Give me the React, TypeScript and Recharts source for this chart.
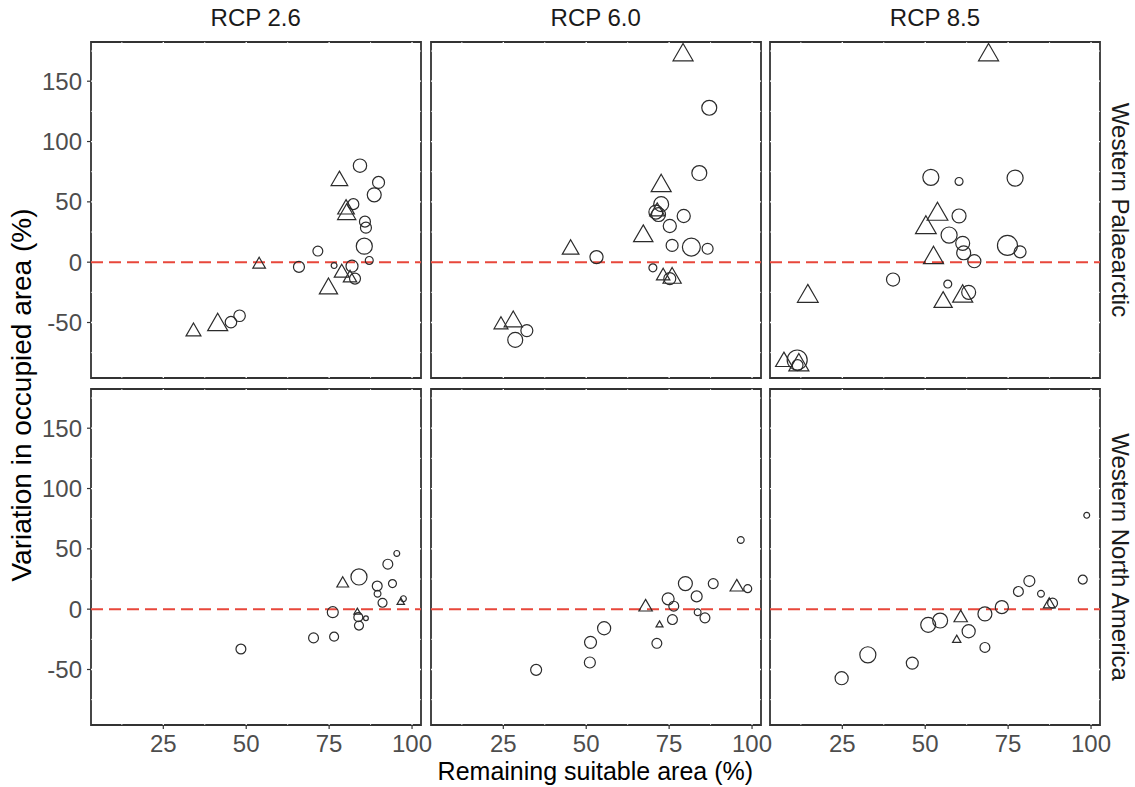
import React from 'react';
import { ScatterChart, Scatter, XAxis, YAxis, ZAxis, ReferenceLine, ReferenceArea } from 'recharts';

type Pt = { x: number; y: number; s: number };

const columnLabels = ['RCP 2.6', 'RCP 6.0', 'RCP 8.5'];
const rowLabels = ['Western Palaearctic', 'Western North America'];
const xTicks = [25, 50, 75, 100];
const yTicks = [-50, 0, 50, 100, 150];
const xMinor = [12.5, 37.5, 62.5, 87.5];
const yMinor = [-75, -25, 25, 75, 125, 175];
const xDomain: [number, number] = [3.2, 102.7];
const yDomain: [number, number] = [-96, 182.5];

// Western Palaearctic
const wpRcp26Circles: Pt[] = [
  { x: 45.4, y: -49.7, s: 23 }, { x: 48, y: -44.4, s: 23 }, { x: 65.9, y: -3.9, s: 21 },
  { x: 71.6, y: 9.2, s: 17 }, { x: 76.5, y: -2.8, s: 6 }, { x: 81.9, y: -3.3, s: 25 },
  { x: 82.8, y: -13.6, s: 21 }, { x: 82.3, y: 48.1, s: 21 }, { x: 84.3, y: 80, s: 31 },
  { x: 89.9, y: 66.1, s: 25 }, { x: 88.6, y: 55.8, s: 34 }, { x: 85.8, y: 33.6, s: 21 },
  { x: 86.1, y: 28.6, s: 21 }, { x: 85.6, y: 13.3, s: 45 }, { x: 87.1, y: 1.4, s: 11 },
];
const wpRcp26Triangles: Pt[] = [
  { x: 34.1, y: -57.5, s: 32 }, { x: 41.4, y: -51.9, s: 58 }, { x: 53.9, y: -1.9, s: 23 },
  { x: 74.8, y: -21.9, s: 48 }, { x: 78.1, y: 67.5, s: 40 }, { x: 78.8, y: -8.9, s: 32 },
  { x: 80.1, y: 43.9, s: 40 }, { x: 80.3, y: 39.7, s: 48 }, { x: 81.3, y: -13.1, s: 26 },
];
const wpRcp60Circles: Pt[] = [
  { x: 87.1, y: 128, s: 39 }, { x: 84.1, y: 73.9, s: 39 }, { x: 72.6, y: 48.1, s: 39 },
  { x: 71, y: 41.5, s: 34 }, { x: 71.8, y: 39.5, s: 34 }, { x: 79.4, y: 38.3, s: 30 },
  { x: 75.2, y: 30, s: 30 }, { x: 75.9, y: 13.9, s: 25 }, { x: 81.7, y: 12.5, s: 56 },
  { x: 86.6, y: 11.1, s: 21 }, { x: 53.1, y: 4.2, s: 30 }, { x: 70.1, y: -4.7, s: 11 },
  { x: 75.2, y: -13.6, s: 25 }, { x: 32.1, y: -56.7, s: 25 }, { x: 28.6, y: -64.4, s: 39 },
];
const wpRcp60Triangles: Pt[] = [
  { x: 79.2, y: 171.7, s: 58 }, { x: 72.6, y: 63.3, s: 58 }, { x: 71.4, y: 42, s: 32 },
  { x: 67.2, y: 21.7, s: 54 }, { x: 45.3, y: 10.6, s: 40 }, { x: 24.3, y: -51.9, s: 28 },
  { x: 28, y: -49.2, s: 48 }, { x: 73.2, y: -11.5, s: 26 }, { x: 75.9, y: -13.1, s: 48 },
];
const wpRcp85Circles: Pt[] = [
  { x: 51.7, y: 70.3, s: 45 }, { x: 60.2, y: 66.9, s: 11 }, { x: 77.1, y: 69.7, s: 45 },
  { x: 60.2, y: 38.3, s: 34 }, { x: 57.2, y: 22.5, s: 45 }, { x: 61.3, y: 15.6, s: 34 },
  { x: 61.6, y: 7.8, s: 34 }, { x: 64.8, y: 0.8, s: 30 }, { x: 74.8, y: 13.9, s: 70 },
  { x: 78.6, y: 8.6, s: 25 }, { x: 40.3, y: -14.4, s: 30 }, { x: 56.8, y: -18.1, s: 11 },
  { x: 63.1, y: -25, s: 34 }, { x: 11.4, y: -81.1, s: 70 }, { x: 11.5, y: -85.3, s: 21 },
];
const wpRcp85Triangles: Pt[] = [
  { x: 69.1, y: 171.7, s: 58 }, { x: 53.7, y: 39.7, s: 62 }, { x: 50.2, y: 28.6, s: 62 },
  { x: 52.5, y: 3.6, s: 58 }, { x: 14.6, y: -28.3, s: 62 }, { x: 55.4, y: -33.1, s: 48 },
  { x: 61.3, y: -28.3, s: 58 }, { x: 7.4, y: -82.5, s: 40 }, { x: 11.9, y: -85.3, s: 58 },
];

// Western North America
const wnaRcp26Circles: Pt[] = [
  { x: 48.4, y: -33, s: 17 }, { x: 70.3, y: -23.8, s: 17 }, { x: 76.5, y: -22.8, s: 14 },
  { x: 76.1, y: -2.5, s: 21 }, { x: 83.8, y: -6.6, s: 14 }, { x: 84, y: -13.6, s: 14 },
  { x: 86.1, y: -7.5, s: 4 }, { x: 84, y: 26.7, s: 45 }, { x: 89.5, y: 19.2, s: 17 },
  { x: 89.6, y: 12.8, s: 8 }, { x: 91.1, y: 5.3, s: 14 }, { x: 92.7, y: 37.3, s: 17 },
  { x: 94.1, y: 21.2, s: 11 }, { x: 95.4, y: 46.2, s: 6 }, { x: 97.4, y: 8.7, s: 6 },
];
const wnaRcp26Triangles: Pt[] = [
  { x: 79.1, y: 21.2, s: 20 }, { x: 83.5, y: -2.5, s: 7 }, { x: 96.6, y: 5.8, s: 8 },
];
const wnaRcp60Circles: Pt[] = [
  { x: 34.9, y: -50.3, s: 21 }, { x: 51.1, y: -44.2, s: 21 }, { x: 51.3, y: -27.5, s: 25 },
  { x: 55.4, y: -15.8, s: 30 }, { x: 71.3, y: -28.3, s: 17 }, { x: 74.7, y: 8.6, s: 25 },
  { x: 76.4, y: 2.5, s: 17 }, { x: 76, y: -8.6, s: 17 }, { x: 79.9, y: 21.2, s: 34 },
  { x: 83.3, y: 10.6, s: 21 }, { x: 83.6, y: -2.5, s: 8 }, { x: 85.8, y: -7.2, s: 17 },
  { x: 88.3, y: 21.2, s: 17 }, { x: 96.6, y: 57.3, s: 8 }, { x: 98.7, y: 17, s: 11 },
];
const wnaRcp60Triangles: Pt[] = [
  { x: 67.9, y: 1.7, s: 26 }, { x: 72.1, y: -13, s: 7 }, { x: 95.4, y: 18.3, s: 26 },
];
const wnaRcp85Circles: Pt[] = [
  { x: 24.8, y: -57.2, s: 30 }, { x: 32.7, y: -37.8, s: 45 }, { x: 46.1, y: -44.7, s: 25 },
  { x: 50.9, y: -13, s: 39 }, { x: 54.5, y: -9.4, s: 39 }, { x: 63.1, y: -18.3, s: 30 },
  { x: 68, y: -3.9, s: 34 }, { x: 68, y: -31.7, s: 17 }, { x: 73.1, y: 1.7, s: 30 },
  { x: 78.1, y: 14.7, s: 17 }, { x: 81.4, y: 23.3, s: 21 }, { x: 84.9, y: 12.8, s: 8 },
  { x: 88.4, y: 5, s: 17 }, { x: 97.5, y: 24.5, s: 14 }, { x: 98.7, y: 77.8, s: 6 },
];
const wnaRcp85Triangles: Pt[] = [
  { x: 60.7, y: -7.2, s: 26 }, { x: 59.5, y: -25.5, s: 10 }, { x: 87.4, y: 3.9, s: 20 },
];

const panels = [
  [
    { circles: wpRcp26Circles, triangles: wpRcp26Triangles },
    { circles: wpRcp60Circles, triangles: wpRcp60Triangles },
    { circles: wpRcp85Circles, triangles: wpRcp85Triangles },
  ],
  [
    { circles: wnaRcp26Circles, triangles: wnaRcp26Triangles },
    { circles: wnaRcp60Circles, triangles: wnaRcp60Triangles },
    { circles: wnaRcp85Circles, triangles: wnaRcp85Triangles },
  ],
];

const FONT = '"Liberation Sans", Arial, Helvetica, sans-serif';
const colLeft = [90.7, 430.7, 770];
const rowTop = [42, 389];
const PW = 330;
const PH = 336;
const Y_AXIS_W = 88;
const X_AXIS_H = 44;
const M = 2;

function Panel({ row, col }: { row: number; col: number }) {
  const { circles, triangles } = panels[row][col];
  const yW = col === 0 ? Y_AXIS_W : 0;
  const xH = row === 1 ? X_AXIS_H : 0;
  const mr = row === 1 ? 24 : M;
  const tick = { fill: '#4d4d4d', fontSize: 24, fontFamily: FONT };
  return (
    <div style={{ position: 'absolute', left: colLeft[col] - M - yW, top: rowTop[row] - M }}>
      <ScatterChart width={PW + yW + M + mr} height={PH + xH + 2 * M} margin={{ top: M, right: mr, bottom: M, left: M }}>
        <XAxis
          type="number"
          dataKey="x"
          domain={xDomain}
          ticks={xTicks}
          hide={row === 0}
          height={xH}
          axisLine={false}
          tickLine={{ stroke: '#333', strokeWidth: 1.2 }}
          tickSize={4}
          tickMargin={6}
          tick={tick}
          interval={0}
          allowDataOverflow
        />
        <YAxis
          type="number"
          dataKey="y"
          domain={yDomain}
          ticks={yTicks}
          hide={col !== 0}
          width={yW}
          axisLine={false}
          tickLine={{ stroke: '#333', strokeWidth: 1.2 }}
          tickSize={4}
          tickMargin={5}
          tick={tick}
          interval={0}
          allowDataOverflow
        />
        <ZAxis zAxisId="c" type="number" dataKey="s" domain={[0, 100]} range={[0, 450]} />
        <ZAxis zAxisId="t" type="number" dataKey="s" domain={[0, 100]} range={[0, 300]} />
        <ReferenceArea
          x1={xDomain[0]}
          x2={xDomain[1]}
          y1={yDomain[0]}
          y2={yDomain[1]}
          fill="none"
          stroke="#333"
          strokeWidth={1.8}
          ifOverflow="visible"
        />
        {xTicks.map((v) => (
          <ReferenceLine key={'xm' + v} x={v} stroke="#fff" strokeWidth={1.3} />
        ))}
        {xMinor.map((v) => (
          <ReferenceLine key={'xn' + v} x={v} stroke="#fff" strokeWidth={0.8} />
        ))}
        {yTicks.map((v) => (
          <ReferenceLine key={'ym' + v} y={v} stroke="#fff" strokeWidth={1.3} />
        ))}
        {yMinor.map((v) => (
          <ReferenceLine key={'yn' + v} y={v} stroke="#fff" strokeWidth={0.8} />
        ))}
        <ReferenceLine y={0} stroke="#e8473b" strokeWidth={2} strokeDasharray="12 6" />
        <Scatter
          data={circles}
          zAxisId="c"
          shape="circle"
          fill="none"
          stroke="#2b2b2b"
          strokeWidth={1.2}
          isAnimationActive={false}
        />
        <Scatter
          data={triangles}
          zAxisId="t"
          shape="triangle"
          fill="none"
          stroke="#2b2b2b"
          strokeWidth={1.2}
          isAnimationActive={false}
        />
      </ScatterChart>
    </div>
  );
}

export default function App() {
  return (
    <div
      style={{
        position: 'absolute',
        left: 0,
        top: 0,
        width: 1135,
        height: 787,
        background: '#fff',
        fontFamily: FONT,
        overflow: 'hidden',
      }}
    >
      {rowLabels.map((_, r) => columnLabels.map((__, c) => <Panel key={r + '-' + c} row={r} col={c} />))}
      {columnLabels.map((label, c) => (
        <div
          key={label}
          style={{
            position: 'absolute',
            left: colLeft[c],
            width: PW,
            top: 4,
            textAlign: 'center',
            fontSize: 24,
            color: '#1a1a1a',
            lineHeight: '28px',
          }}
        >
          {label}
        </div>
      ))}
      {rowLabels.map((label, r) => (
        <div
          key={label}
          style={{
            position: 'absolute',
            left: 1120,
            top: rowTop[r] + PH / 2,
            transform: 'translate(-50%, -50%) rotate(90deg)',
            whiteSpace: 'nowrap',
            fontSize: 24,
            color: '#1a1a1a',
            lineHeight: '28px',
          }}
        >
          {label}
        </div>
      ))}
      <div
        style={{
          position: 'absolute',
          left: 22,
          top: 395,
          transform: 'translate(-50%, -50%) rotate(-90deg)',
          whiteSpace: 'nowrap',
          fontSize: 28,
          color: '#000',
          lineHeight: '32px',
        }}
      >
        Variation in occupied area (%)
      </div>
      <div
        style={{
          position: 'absolute',
          left: colLeft[0],
          width: colLeft[2] + PW - colLeft[0],
          top: 756,
          textAlign: 'center',
          fontSize: 25,
          color: '#000',
          lineHeight: '30px',
        }}
      >
        Remaining suitable area (%)
      </div>
    </div>
  );
}
